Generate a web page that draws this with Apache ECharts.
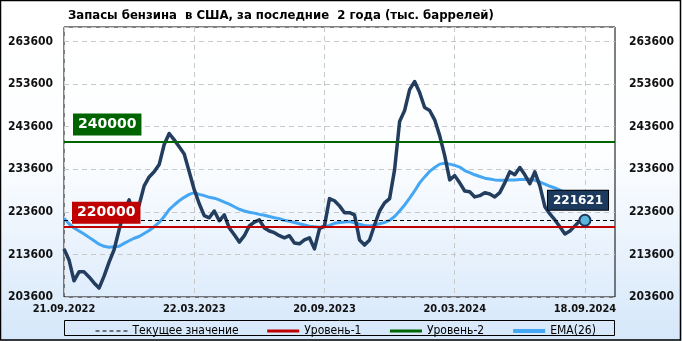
<!DOCTYPE html>
<html>
<head>
<meta charset="utf-8">
<script src="https://cdn.jsdelivr.net/npm/echarts@6/dist/echarts.min.js"></script>
<style>
html,body{margin:0;padding:0;background:#fff;}
#chart{width:682px;height:341px;}
</style>
</head>
<body>
<div id="chart"></div>
<script>
// ---- data ----
const titleText = 'Запасы бензина  в США, за последние  2 года (тыс. баррелей)';
const startDate = [2022, 9, 21];   // first weekly observation
const pointCount = 105;            // weekly points
const extraSlots = 6;              // empty space on the right of the plot
const stockValues = [
  214900, 212300, 207400, 209500, 209500, 208300, 206900, 205700, 208500, 211800,
  214700, 219400, 223600, 226400, 222700, 225200, 229700, 231800, 233000, 234700,
  239400, 242000, 240500, 238900, 237200, 233000, 228800, 225500, 222700, 222200,
  223800, 221500, 222900, 219800, 218200, 216500, 218000, 220300, 221200, 221700,
  219800, 219100, 218700, 218000, 217500, 218000, 216300, 216100, 217000, 217500,
  214900, 219600, 220300, 226700, 226200, 225000, 223400, 223400, 222900, 217000,
  215800, 217000, 220500, 223800, 225700, 226700, 233500, 244800, 247400, 252300,
  254200, 251600, 248100, 247400, 245200, 241500, 236800, 231100, 232100, 230400,
  228500, 228300, 227100, 227400, 228100, 227800, 227100, 228100, 230400, 233000,
  232300, 234000, 232300, 230200, 233000, 229700, 224800, 223100, 221700, 220100,
  218400, 219100, 220300, 221500, 221621
];
const emaValues = [
  222100, 220800, 219800, 219100, 218400, 217600, 216800, 216000, 215500, 215300,
  215400, 215500, 216200, 216800, 217400, 217800, 218500, 219200, 220100, 221100,
  222500, 224100, 225200, 226200, 227000, 227700, 228100, 227700, 227400, 227000,
  226800, 226400, 225900, 225400, 224800, 224200, 223800, 223500, 223300, 223000,
  222800, 222500, 222200, 222000, 221600, 221400, 221100, 220800, 220500, 220200,
  220100, 220000, 220100, 220400, 220900, 221100, 221200, 221300, 221000, 220700,
  220400, 220300, 220500, 220800, 221100, 221600, 222500, 223800, 225200, 226800,
  228500, 230400, 231800, 233100, 234000, 234800, 235000, 234800, 234500, 234100,
  233300, 232800, 232300, 231900, 231500, 231300, 231100, 231000, 231000, 231100,
  231100, 231200, 231200, 231300, 231000, 230600, 230100, 229600, 229200, 228700,
  228200, 227700, 227300, 226900, 226500
];
const level1 = 220000;
const level2 = 240000;
const currentValue = 221621;
const yMin = 203600, yMax = 267000, yStep = 10000;
const legendNames = ['Текущее значение', 'Уровень-1', 'Уровень-2', 'EMA(26)'];

// categories: weekly dates
function fmt(d){
  const dd = String(d.getUTCDate()).padStart(2,'0');
  const mm = String(d.getUTCMonth()+1).padStart(2,'0');
  return dd + '.' + mm + '.' + d.getUTCFullYear();
}
const categories = [];
for (let i = 0; i < pointCount; i++) {
  const d = new Date(Date.UTC(startDate[0], startDate[1]-1, startDate[2] + 7*i));
  categories.push(fmt(d));
}
for (let i = 0; i < extraSlots; i++) categories.push('');

// ---- styles ----
const FONT = '"DejaVu Sans Condensed", "DejaVu Sans", sans-serif';
const C_MAIN = '#233d5e', C_EMA = '#45a6f4', C_RED = '#c00000', C_GREEN = '#006400';
const legendLineWidths = [1, 3, 3, 4];

const chart = echarts.init(document.getElementById('chart'), null, {renderer:'canvas'});

const yLabel = {fontFamily: FONT, fontWeight:'bold', fontSize: 12, color:'#111', showMaxLabel:false,
  formatter: function(v){ return String(v); }};

chart.setOption({
  animation: false,
  backgroundColor: {type:'linear', x:0, y:0, x2:0, y2:1,
    colorStops:[{offset:0,color:'#ffffff'},{offset:0.45,color:'#fdfeff'},{offset:1,color:'#d5e7fa'}]},
  title: {text: titleText, left: 63, top: 4,
    textStyle:{fontFamily: FONT, fontWeight:'bold', fontSize: 13, color:'#000'}},
  grid: {left: 64, right: 67, top: 27, bottom: 44, show: true, borderColor:'#000', borderWidth:1,
    backgroundColor:'transparent'},
  legend: {
    data: legendNames.map(function(n, i){ return {name: n, lineStyle:{width: legendLineWidths[i]}}; }),
    left: 90, top: 320, itemWidth: 32, itemHeight: 12, itemGap: 27,
    itemStyle:{opacity:0},
    textStyle:{fontFamily: FONT, fontSize: 12, color:'#000'}, selectedMode:false
  },
  xAxis: {
    type:'category', data: categories, boundaryGap:false,
    axisLine:{show:false}, axisTick:{show:false},
    axisLabel:{interval:25, fontFamily: FONT, fontWeight:'bold', fontSize: 11, color:'#111', margin: 7},
    splitLine:{show:true, interval:25, lineStyle:{color:'#c8c8c8', type:[5,4], width:1}}
  },
  yAxis: [
    {type:'value', min: yMin, max: yMax, interval: yStep, position:'left',
      axisLine:{show:false}, axisTick:{show:false},
      axisLabel: Object.assign({}, yLabel, {margin: 11}),
      splitLine:{show:true, lineStyle:{color:'#c8c8c8', type:[5,4], width:1}}},
    {type:'value', min: yMin, max: yMax, interval: yStep, position:'right',
      axisLine:{show:false}, axisTick:{show:false},
      axisLabel: Object.assign({}, yLabel, {margin: 14}),
      splitLine:{show:false}}
  ],
  series: [
    {
      name: legendNames[0], type:'line', data: [], symbol:'none', z: 2,
      itemStyle:{color:'#000'}, lineStyle:{color:'#000', width:1, type:[4,3]},
      markLine:{silent:true, symbol:['none','none'], label:{show:false},
        lineStyle:{color:'#000', width:1, type:[4,3]}, data:[{yAxis: currentValue}]}
    },
    {
      name: legendNames[1], type:'line', data: [], symbol:'none', z: 2,
      itemStyle:{color:C_RED}, lineStyle:{color:C_RED, width:3},
      markLine:{silent:true, symbol:['none','none'], label:{show:false},
        lineStyle:{color:C_RED, width:2, type:'solid'}, data:[{yAxis: level1}]}
    },
    {
      name: legendNames[2], type:'line', data: [], symbol:'none', z: 2,
      itemStyle:{color:C_GREEN}, lineStyle:{color:C_GREEN, width:3},
      markLine:{silent:true, symbol:['none','none'], label:{show:false},
        lineStyle:{color:C_GREEN, width:2, type:'solid'}, data:[{yAxis: level2}]}
    },
    {
      name: legendNames[3], type:'line', data: emaValues, symbol:'none', z: 3,
      itemStyle:{color:C_EMA}, lineStyle:{color:C_EMA, width:3}
    },
    {
      name: 'Запасы', type:'line', data: stockValues, symbol:'none', z: 4,
      itemStyle:{color:C_MAIN}, lineStyle:{color:C_MAIN, width:3.5, join:'round'},
      markPoint:{silent:true, symbol:'circle', symbolSize: 11, label:{show:false},
        itemStyle:{color:'#5cb6dc', borderColor:'#1d3557', borderWidth:2},
        data:[{coord:[pointCount-1, currentValue]}]}
    }
  ]
});

// value boxes, positioned from the axes
const pL2 = chart.convertToPixel({xAxisIndex:0, yAxisIndex:0}, [0, level2]);
const pL1 = chart.convertToPixel({xAxisIndex:0, yAxisIndex:0}, [0, level1]);
const pCur = chart.convertToPixel({xAxisIndex:0, yAxisIndex:0}, [pointCount-1, currentValue]);
function box(text, x, y, bg, size, pad, border){
  return {type:'text', z: 100, x: x, y: y, silent:true,
    style:{text: text, fill:'#fff', font: 'bold ' + size + 'px "DejaVu Sans", sans-serif',
      backgroundColor: bg, padding: pad, align:'left', verticalAlign:'top',
      borderColor: border ? '#000' : null, borderWidth: border ? 1 : 0}};
}
chart.setOption({
  graphic: [
    box(String(level2), pL2[0] + 9, pL2[1] - 28.5, C_GREEN, 14, [4,5,4,5], false),
    box(String(level1), pL1[0] + 8, pL1[1] - 25.5, C_RED, 14, [4,5,4,5], false),
    box(String(currentValue), pCur[0] - 37, pCur[1] - 29.5, '#1c3a5e', 12, [4,5,3,5], true),
    {type:'rect', z: 50, silent:true, shape:{x:64.5, y:320.5, width:550, height:15},
      style:{fill:null, stroke:'#000', lineWidth:1}},
    {type:'rect', z: 50, silent:true, shape:{x:0.5, y:0.5, width:680, height:339.5},
      style:{fill:null, stroke:'#000', lineWidth:1.5}}
  ]
});
</script>
</body>
</html>
